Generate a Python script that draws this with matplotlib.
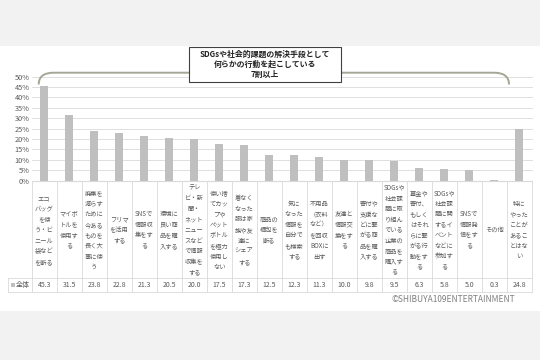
import matplotlib
matplotlib.use('Agg')
import matplotlib.pyplot as plt
from matplotlib.path import Path
from matplotlib.patches import PathPatch, Rectangle

plt.rcParams['font.family'] = ['Noto Sans CJK JP', 'DejaVu Sans']

categories = [
    "エコ\nバッグ\nを使\nう・ビ\nニール\n袋など\nを断る",
    "マイボ\nトルを\n使用す\nる",
    "廃棄を\n減らす\nために\n今ある\nものを\n長く大\n事に使\nう",
    "フリマ\nを活用\nする",
    "SNSで\n情報収\n集をす\nる",
    "環境に\n良い商\n品を購\n入する",
    "テレ\nビ・新\n聞・\nネット\nニュー\nスなど\nで情報\n収集を\nする",
    "使い捨\nてカッ\nプや\nペット\nボトル\nを極力\n使用し\nない",
    "着なく\nなった\n服は家\n族や友\n達に\nシェア\nする",
    "商品の\n梱包を\n断る",
    "気に\nなった\n情報を\n自分で\nも検索\nする",
    "不用品\n（衣料\nなど）\nを回収\nBOXに\n出す",
    "友達と\n情報交\n換をす\nる",
    "寄付や\n支援な\nどに繋\nがる商\n品を購\n入する",
    "SDGsや\n社会課\n題に取\nり組ん\nでいる\n企業の\n商品を\n購入す\nる",
    "募金や\n寄付、\nもしく\nはそれ\nらに繋\nがる行\n動をす\nる",
    "SDGsや\n社会課\n題に関\nするイ\nベント\nなどに\n参加す\nる",
    "SNSで\n情報発\n信をす\nる",
    "その他",
    "特に\nやった\nことが\nあるこ\nとはな\nい",
]
values = [45.3, 31.5, 23.8, 22.8, 21.3, 20.5, 20.0, 17.5, 17.3, 12.5,
          12.3, 11.3, 10.0, 9.8, 9.5, 6.3, 5.8, 5.0, 0.3, 24.8]
series_name = "全体"
yticks = [0, 5, 10, 15, 20, 25, 30, 35, 40, 45, 50]
callout_lines = ["SDGsや社会的課題の解決手段として", "何らかの行動を起こしている", "7割以上"]
credit = "©SHIBUYA109ENTERTAINMENT"

W, H = 540, 360
fig = plt.figure(figsize=(5.4, 3.6), dpi=100)
fig.patch.set_facecolor('white')

def fx(px):
    return px / W

def fy(py):
    return 1 - py / H

BAR = '#bfbfbf'
GRID = '#d9d9d9'
TXT = '#595959'

# background overlay (pixel coordinates)
ov = fig.add_axes([0, 0, 1, 1], zorder=0)
ov.set_xlim(0, W); ov.set_ylim(H, 0); ov.axis('off')
ov.add_patch(Rectangle((0, 0), W, 46, color='#f2f2f2', lw=0))
ov.add_patch(Rectangle((0, 311), W, 49, color='#f2f2f2', lw=0))

x_left, x_right = 31.7, 531.7
y_zero, y_top = 180.7, 76.5
n = len(categories)
colw = (x_right - x_left) / n

ax = fig.add_axes([fx(x_left), fy(y_zero), (x_right - x_left) / W, (y_zero - y_top) / H], zorder=1)
ax.patch.set_alpha(0)
ax.bar(range(n), values, width=0.31, color=BAR, zorder=2)
ax.set_xlim(-0.5, n - 0.5)
ax.set_ylim(0, 50)
ax.set_yticks(yticks)
ax.set_yticklabels([f'{t}%' for t in yticks], fontsize=5.3, color=TXT)
ax.tick_params(axis='y', length=0, pad=1.5)
ax.set_xticks([])
for s in ax.spines.values():
    s.set_visible(False)
for t in yticks[1:]:
    ax.axhline(t, color=GRID, lw=0.6, zorder=1, clip_on=False)

# table
t_top, t_mid, t_bot = 181.0, 278.0, 292.0
x_tab_left = 8.0
xl = -0.5 - (x_left - x_tab_left) / colw
tb = fig.add_axes([fx(x_tab_left), fy(t_bot), (x_right - x_tab_left) / W, (t_bot - t_top) / H], zorder=1)
tb.patch.set_alpha(0)
tb.set_xlim(xl, n - 0.5)
tb.set_ylim(t_bot, t_top)
tb.axis('off')
for i in range(n + 1):
    xv = i - 0.5
    tb.plot([xv, xv], [t_top, t_bot], color=GRID, lw=0.6, clip_on=False)
tb.plot([xl, xl], [t_mid, t_bot], color=GRID, lw=0.6, clip_on=False)
tb.plot([-0.5, n - 0.5], [t_top, t_top], color=GRID, lw=0.8, clip_on=False)
tb.plot([xl, n - 0.5], [t_mid, t_mid], color=GRID, lw=0.6, clip_on=False)
tb.plot([xl, n - 0.5], [t_bot, t_bot], color=GRID, lw=0.6, clip_on=False)

yc = (t_top + t_mid) / 2 + 0.5
lh = 10.6
for i, lab in enumerate(categories):
    lines = lab.split('\n')
    k = len(lines)
    for j, line in enumerate(lines):
        tb.text(i, yc + (j - (k - 1) / 2) * lh, line, ha='center', va='center',
                fontsize=4.5, color=TXT)
    tb.text(i, (t_mid + t_bot) / 2, f'{values[i]:.1f}', ha='center', va='center',
            fontsize=5.0, color=TXT)

# top overlay for callout, legend key, credit
top = fig.add_axes([0, 0, 1, 1], zorder=3)
top.set_xlim(0, W); top.set_ylim(H, 0); top.axis('off'); top.patch.set_alpha(0)
top.add_patch(Rectangle((10.5, 283), 4, 4, color=BAR, lw=0))
top.text(16, 285, series_name, ha='left', va='center', fontsize=5.0, color=TXT)

# bracket
xs = x_left + colw * 0 + 7
xe = x_left + colw * (n - 2 + 1) + 2.3
yb, yh, r = 84.5, 72.7, 15
verts = [(xs, yb), (xs, yh), (xs + r, yh), (xe - r, yh), (xe, yh), (xe, yb)]
codes = [Path.MOVETO, Path.CURVE3, Path.CURVE3, Path.LINETO, Path.CURVE3, Path.CURVE3]
top.add_patch(PathPatch(Path(verts, codes), facecolor='none', edgecolor='#a6a696', lw=1.4))

top.add_patch(Rectangle((189, 47), 152, 35, facecolor='white', edgecolor='#404040', lw=0.8))
for j, line in enumerate(callout_lines):
    top.text(265, 54.5 + j * 10, line, ha='center', va='center', fontsize=5.7,
             fontweight='bold', color='#222222')

top.text(515, 300, credit, ha='right', va='center', fontsize=6.0, color='#7f7f7f')

fig.savefig('out.png', dpi=100)
